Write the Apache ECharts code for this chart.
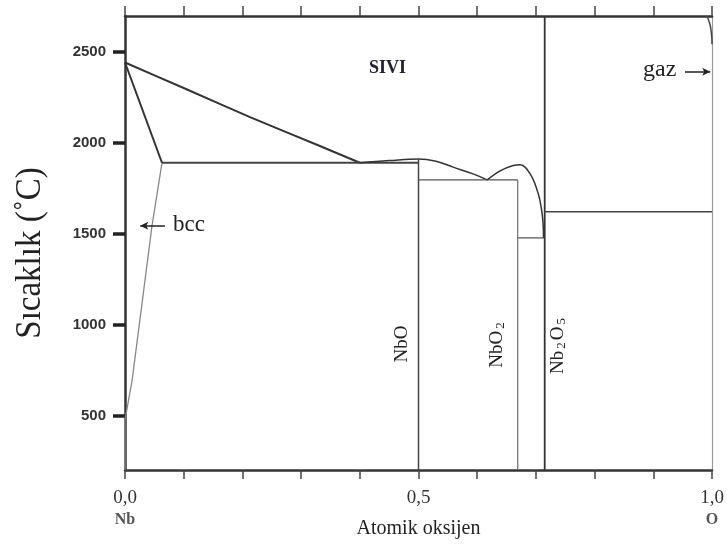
<!DOCTYPE html>
<html>
<head>
<meta charset="utf-8">
<script src="https://cdn.jsdelivr.net/npm/echarts@6/dist/echarts.min.js"></script>
<style>
  html, body { margin: 0; padding: 0; background: #fff; }
  #chart { width: 727px; height: 550px; }
</style>
</head>
<body>
<div id="chart"></div>
<script>
// Nb–O phase diagram: x = atomic fraction of oxygen, y = temperature (°C)
const tempTicks = [500, 1000, 1500, 2000, 2500];
const compTickLabels = { 0: '0,0', 0.5: '0,5', 1: '1,0' };
const endMembers = { 0: 'Nb', 1: 'O' };

// boundary curves, [x, T]
const liquidusNb = [[0, 2440], [0.1, 2300], [0.213, 2140], [0.33, 1985], [0.4, 1890]];
const solidusNb = [[0, 2440], [0.063, 1890]];
const solvusBcc = [[0.063, 1890], [0.046, 1544], [0.012, 694], [0, 480], [0, 205]];
const eutectic1 = [[0.063, 1890], [0.5, 1890]];
const liquidusNbO = [[0.4, 1890], [0.45, 1902], [0.5, 1911], [0.53, 1898], [0.559, 1866], [0.593, 1829], [0.617, 1796]];
const eutectic2 = [[0.5, 1796], [0.669, 1796]];
const liquidusNbO2 = [[0.617, 1796], [0.639, 1846], [0.66, 1874], [0.673, 1879], [0.69, 1830], [0.704, 1720], [0.711, 1600], [0.713, 1478]];
const eutectic3 = [[0.669, 1478], [0.715, 1478]];
const lineNbO = [[0.5, 1911], [0.5, 205]];
const lineNbO2 = [[0.669, 1796], [0.669, 205]];
const lineNb2O5 = [[0.715, 2695], [0.715, 205]];
const eutectic4 = [[0.715, 1621], [1, 1621]];
const gasBoundary = [[0.991, 2695], [0.996, 2655], [0.999, 2600], [1, 2540]];

// pointer arrows for labels
const bccArrow = [[0.068, 1544], [0.026, 1544]];
const gasArrow = [[0.954, 2389], [0.997, 2389]];

const chart = echarts.init(document.getElementById('chart'));

function boundary(data, color, width, smooth) {
  return {
    type: 'line', data: data, showSymbol: false, symbol: 'none', silent: true,
    smooth: smooth || false,
    lineStyle: { color: color, width: width }, z: 3
  };
}

function arrow(data) {
  return {
    type: 'line', data: [], silent: true, symbol: 'none',
    markLine: {
      silent: true, symbol: ['none', 'arrow'], symbolSize: [6, 8],
      label: { show: false },
      lineStyle: { color: '#222', width: 1.5, type: 'solid' },
      data: [[{ coord: data[0] }, { coord: data[1] }]]
    }
  };
}

const serif = '"Liberation Serif", "Times New Roman", serif';

chart.setOption({
  animation: false,
  backgroundColor: '#fff',
  grid: { left: 125, right: 15, top: 16, bottom: 80, containLabel: false, outerBoundsMode: 'none' },
  xAxis: [{
    type: 'value', min: 0, max: 1, interval: 0.1, position: 'bottom',
    name: 'Atomik oksijen', nameLocation: 'middle', nameGap: 49, nameMoveOverlap: false,
    nameTextStyle: { fontFamily: serif, fontSize: 20, color: '#222' },
    axisLine: { show: true, onZero: false, lineStyle: { color: '#333', width: 2.5 } },
    axisTick: { show: true, inside: false, length: 9, lineStyle: { color: '#444', width: 1.5 } },
    axisLabel: {
      margin: 17, fontFamily: serif, fontSize: 19, color: '#333', lineHeight: 22,
      formatter: function (v) {
        const k = Math.round(v * 10) / 10;
        if (compTickLabels[k] === undefined) return '';
        const lab = compTickLabels[k];
        return endMembers[k] ? lab + '\n{el|' + endMembers[k] + '}' : lab;
      },
      rich: { el: { fontFamily: serif, fontSize: 16, fontWeight: 'bold', color: '#555', lineHeight: 22 } }
    },
    splitLine: { show: false }
  }, {
    type: 'value', min: 0, max: 1, interval: 0.1, position: 'top',
    axisLine: { show: true, onZero: false, lineStyle: { color: '#333', width: 2.5 } },
    axisTick: { show: true, inside: false, length: 10, lineStyle: { color: '#444', width: 1.5 } },
    axisLabel: { show: false },
    splitLine: { show: false }
  }],
  yAxis: [{
    type: 'value', min: 205, max: 2695, position: 'left',
    axisLine: { show: true, onZero: false, lineStyle: { color: '#333', width: 2.5 } },
    axisTick: { show: true, length: 12, customValues: tempTicks, lineStyle: { color: '#222', width: 3.5 } },
    axisLabel: {
      customValues: tempTicks, margin: 19,
      formatter: function (v) { return String(v); },
      fontFamily: '"Liberation Sans", Arial, sans-serif', fontSize: 15, fontWeight: 'bold', color: '#333'
    },
    splitLine: { show: false }
  }, {
    type: 'value', min: 205, max: 2695, position: 'right',
    axisLine: { show: true, onZero: false, lineStyle: { color: '#999', width: 1.2 } },
    axisTick: { show: false }, axisLabel: { show: false }, splitLine: { show: false }
  }],
  series: [
    boundary(liquidusNb, '#333', 2, 0.2),
    boundary(solidusNb, '#333', 2),
    boundary(solvusBcc, '#888', 1.3),
    boundary(eutectic1, '#444', 2),
    boundary(liquidusNbO, '#333', 1.5, 0.4),
    boundary(eutectic2, '#555', 1.3),
    boundary(liquidusNbO2, '#333', 1.5, 0.4),
    boundary(eutectic3, '#555', 1.3),
    boundary(lineNbO, '#444', 1.5),
    boundary(lineNbO2, '#777', 1.3),
    boundary(lineNb2O5, '#333', 1.8),
    boundary(eutectic4, '#444', 1.5),
    boundary(gasBoundary, '#444', 1.5, 0.5),
    arrow(bccArrow),
    arrow(gasArrow)
  ],
  graphic: [
    {
      type: 'text', x: 30, y: 253, rotation: Math.PI / 2, scaleY: 1.1,
      style: { text: 'Sıcaklık (˚C)', font: '33px ' + serif, fill: '#222', align: 'center', verticalAlign: 'middle' }
    },
    { type: 'text', left: 369, top: 59, style: { text: 'SIVI', font: 'bold 18px ' + serif, fill: '#223' } },
    { type: 'text', left: 173, top: 213, style: { text: 'bcc', font: '23px ' + serif, fill: '#222' } },
    { type: 'text', left: 643, top: 58, style: { text: 'gaz', font: '24px ' + serif, fill: '#222' } },
    {
      type: 'text', x: 402, y: 344, rotation: Math.PI / 2,
      style: { text: 'NbO', font: '19px ' + serif, fill: '#222', align: 'center', verticalAlign: 'middle' }
    },
    {
      type: 'text', x: 497, y: 345, rotation: Math.PI / 2,
      style: {
        text: 'NbO{s|2}', align: 'center', verticalAlign: 'middle',
        font: '19px ' + serif, fill: '#222',
        rich: { s: { fontFamily: serif, fontSize: 13, fill: '#222', padding: [8, 0, 0, 2] } }
      }
    },
    {
      type: 'text', x: 558, y: 345, rotation: Math.PI / 2,
      style: {
        text: 'Nb{s|2}O{s|5}', align: 'center', verticalAlign: 'middle',
        font: '19px ' + serif, fill: '#222',
        rich: { s: { fontFamily: serif, fontSize: 13, fill: '#222', padding: [8, 2, 0, 2] } }
      }
    }
  ]
});
</script>
</body>
</html>
